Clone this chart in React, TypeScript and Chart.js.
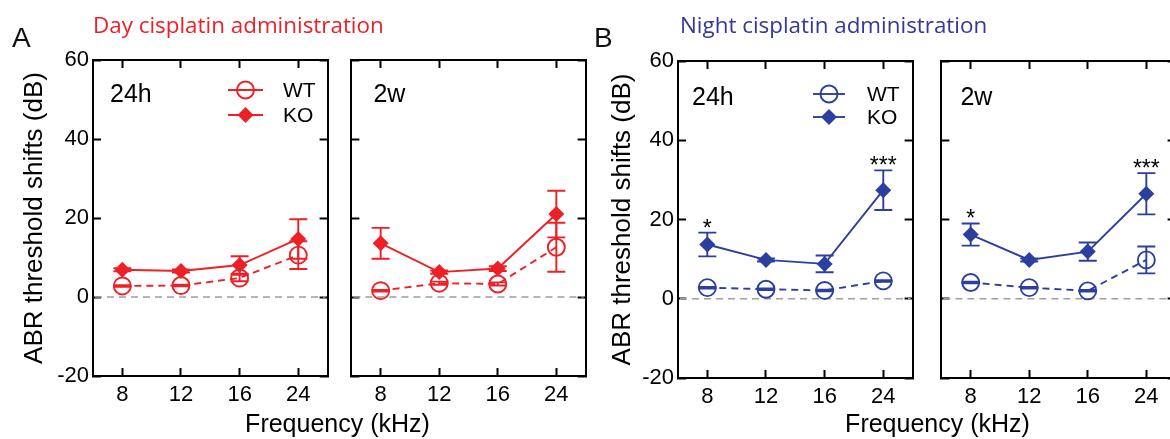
import React, { useEffect, useRef } from 'react';
import { Chart, registerables } from 'chart.js';

Chart.register(...registerables);

// ---------- data ----------
const FREQS = ['8', '12', '16', '24'];
const Y_MIN = -20;
const Y_MAX = 60;
const Y_STEP = 20;

// Day cisplatin, 24h
const dayWT24h = [2.8, 2.9, 4.8, 10.6];
const dayWT24hSem = [0.2, 0.2, 0.8, 3.5];
const dayKO24h = [6.9, 6.6, 8.1, 14.7];
const dayKO24hSem = [0.4, 0.4, 2.2, 5.0];

// Day cisplatin, 2w
const dayWT2w = [1.6, 3.5, 3.3, 12.6];
const dayWT2wSem = [0.2, 0.4, 0.4, 6.2];
const dayKO2w = [13.6, 6.3, 7.2, 21.0];
const dayKO2wSem = [3.9, 0.4, 0.6, 5.9];

// Night cisplatin, 24h
const nightWT24h = [2.8, 2.4, 2.1, 4.5];
const nightWT24hSem = [0.2, 0.2, 0.2, 0.2];
const nightKO24h = [13.7, 9.8, 8.8, 27.4];
const nightKO24hSem = [3.0, 0.4, 2.1, 5.0];
const nightSig24h = ['*', '', '', '***'];

// Night cisplatin, 2w
const nightWT2w = [4.1, 2.8, 2.0, 9.8];
const nightWT2wSem = [0.2, 0.2, 0.2, 3.4];
const nightKO2w = [16.2, 9.8, 11.9, 26.5];
const nightKO2wSem = [2.8, 0.4, 2.3, 5.2];
const nightSig2w = ['*', '', '', '***'];

// ---------- styles ----------
const SANS = '"Liberation Sans", Arial, Helvetica, sans-serif';
const RED = '#ee2027';
const BLUE = '#2d3f9e';
const H = 439;
const LW = 1.9;

type PanelCfg = {
  left: number;
  width: number;
  top: number;
  bottom: number;
  yAxisWidth: number;
  showYLabels: boolean;
  yTitlePad: number;
  color: string;
  wt: number[];
  wtErr: number[];
  ko: number[];
  koErr: number[];
  sig?: string[];
  label: string;
  labelDx: number;
  labelBaseline: number;
  legend?: { lineDx0: number; lineDx1: number; markDx: number; textDx: number; y0: number; y1: number };
};

function drawCircleMark(ctx: CanvasRenderingContext2D, x: number, y: number, color: string) {
  ctx.save();
  ctx.setLineDash([]);
  ctx.strokeStyle = color;
  ctx.lineWidth = LW;
  ctx.beginPath();
  ctx.arc(x, y, 8.5, 0, Math.PI * 2);
  ctx.stroke();
  ctx.restore();
}

function drawDiamondMark(ctx: CanvasRenderingContext2D, x: number, y: number, color: string) {
  const r = 8;
  ctx.save();
  ctx.fillStyle = color;
  ctx.beginPath();
  ctx.moveTo(x, y - r);
  ctx.lineTo(x + r, y);
  ctx.lineTo(x, y + r);
  ctx.lineTo(x - r, y);
  ctx.closePath();
  ctx.fill();
  ctx.restore();
}

function Panel({ cfg }: { cfg: PanelCfg }) {
  const ref = useRef<HTMLCanvasElement>(null);

  useEffect(() => {
    const canvas = ref.current;
    if (!canvas) return;
    const padBottom = 10;
    const padRight = 10;
    const xAxisH = H - padBottom - cfg.bottom;

    const gridOpts = {
      drawOnChartArea: false,
      drawTicks: true,
      tickLength: -8,
      tickWidth: 2,
      tickColor: '#000',
      offset: false,
    };
    const borderOpts = { display: true, color: '#000', width: 2 };

    const zeroLine = {
      id: 'zeroLine',
      beforeDatasetsDraw(chart: any) {
        const { ctx, chartArea, scales } = chart;
        const y = scales.y.getPixelForValue(0);
        ctx.save();
        ctx.strokeStyle = '#9f9f9f';
        ctx.lineWidth = 1.6;
        ctx.setLineDash([7, 5]);
        ctx.beginPath();
        ctx.moveTo(chartArea.left + 2, y);
        ctx.lineTo(chartArea.right - 2, y);
        ctx.stroke();
        ctx.restore();
      },
    };

    const errorBars = {
      id: 'errorBars',
      afterDatasetsDraw(chart: any) {
        const { ctx, scales } = chart;
        chart.data.datasets.forEach((ds: any, di: number) => {
          const meta = chart.getDatasetMeta(di);
          ctx.save();
          ctx.strokeStyle = ds.borderColor;
          ctx.lineWidth = LW;
          ctx.setLineDash([]);
          meta.data.forEach((pt: any, i: number) => {
            const v = ds.data[i];
            const e = ds.errors[i];
            const x = pt.x;
            const yT = scales.y.getPixelForValue(v + e);
            const yB = scales.y.getPixelForValue(v - e);
            ctx.beginPath();
            ctx.moveTo(x, yT);
            ctx.lineTo(x, yB);
            ctx.moveTo(x - 9, yT);
            ctx.lineTo(x + 9, yT);
            ctx.moveTo(x - 9, yB);
            ctx.lineTo(x + 9, yB);
            ctx.stroke();
          });
          ctx.restore();
        });
      },
    };

    const decorations = {
      id: 'decorations',
      afterDraw(chart: any) {
        const { ctx, chartArea, scales } = chart;
        ctx.save();
        // panel label
        ctx.fillStyle = '#000';
        ctx.font = `25px ${SANS}`;
        ctx.textAlign = 'left';
        ctx.textBaseline = 'alphabetic';
        ctx.fillText(cfg.label, chartArea.left + cfg.labelDx, cfg.labelBaseline);

        // legend
        if (cfg.legend) {
          const lg = cfg.legend;
          const rows = [
            { y: lg.y0, text: 'WT', kind: 'circle' },
            { y: lg.y1, text: 'KO', kind: 'diamond' },
          ];
          rows.forEach((r) => {
            ctx.save();
            ctx.strokeStyle = cfg.color;
            ctx.lineWidth = LW;
            ctx.beginPath();
            ctx.moveTo(chartArea.left + lg.lineDx0, r.y);
            ctx.lineTo(chartArea.left + lg.lineDx1, r.y);
            ctx.stroke();
            ctx.restore();
            if (r.kind === 'circle') drawCircleMark(ctx, chartArea.left + lg.markDx, r.y, cfg.color);
            else drawDiamondMark(ctx, chartArea.left + lg.markDx, r.y, cfg.color);
            ctx.fillStyle = '#000';
            ctx.font = `21px ${SANS}`;
            ctx.textBaseline = 'middle';
            ctx.textAlign = 'left';
            ctx.fillText(r.text, chartArea.left + lg.textDx, r.y + 1);
          });
        }

        // significance stars
        if (cfg.sig) {
          const meta = chart.getDatasetMeta(1);
          ctx.fillStyle = '#000';
          ctx.font = `23px ${SANS}`;
          ctx.textAlign = 'center';
          ctx.textBaseline = 'alphabetic';
          cfg.sig.forEach((s, i) => {
            if (!s) return;
            const x = meta.data[i].x;
            const yTop = scales.y.getPixelForValue(cfg.ko[i] + cfg.koErr[i]);
            ctx.fillText(s, x, yTop + 3);
          });
        }
        ctx.restore();
      },
    };

    const chart = new Chart(canvas, {
      type: 'line',
      data: {
        labels: FREQS,
        datasets: [
          {
            label: 'WT',
            data: cfg.wt,
            errors: cfg.wtErr,
            borderColor: cfg.color,
            backgroundColor: 'rgba(0,0,0,0)',
            borderWidth: LW,
            borderDash: [7, 5],
            pointStyle: 'circle',
            pointRadius: 8.5,
            pointBorderWidth: LW,
            pointBorderColor: cfg.color,
            pointBackgroundColor: 'rgba(0,0,0,0)',
            tension: 0,
            fill: false,
          } as any,
          {
            label: 'KO',
            data: cfg.ko,
            errors: cfg.koErr,
            borderColor: cfg.color,
            backgroundColor: cfg.color,
            borderWidth: LW,
            pointStyle: 'rectRot',
            pointRadius: 8,
            pointBorderWidth: 0,
            pointBorderColor: cfg.color,
            pointBackgroundColor: cfg.color,
            tension: 0,
            fill: false,
          } as any,
        ],
      },
      options: {
        animation: false,
        responsive: false,
        events: [],
        layout: { padding: { top: cfg.top, bottom: padBottom, left: 0, right: padRight } },
        plugins: {
          legend: { display: false },
          tooltip: { enabled: false },
          title: { display: false },
        },
        scales: {
          x: {
            type: 'category',
            position: 'bottom',
            offset: true,
            grid: gridOpts,
            border: borderOpts,
            ticks: {
              color: '#000',
              font: { family: SANS, size: 22 },
              padding: 14,
              maxRotation: 0,
              autoSkip: false,
            },
            afterFit: (s: any) => {
              s.height = xAxisH;
            },
          },
          x2: {
            type: 'category',
            position: 'top',
            offset: true,
            grid: gridOpts,
            border: borderOpts,
            ticks: { display: false },
            afterFit: (s: any) => {
              s.height = 0;
            },
          },
          y: {
            type: 'linear',
            position: 'left',
            min: Y_MIN,
            max: Y_MAX,
            grid: gridOpts,
            border: borderOpts,
            ticks: {
              display: cfg.showYLabels,
              stepSize: Y_STEP,
              color: '#000',
              font: { family: SANS, size: 22 },
              padding: 12,
            },
            title: {
              display: cfg.showYLabels,
              text: 'ABR threshold shifts (dB)',
              color: '#000',
              font: { family: SANS, size: 26, lineHeight: 1.2 },
              padding: { top: cfg.yTitlePad, bottom: 0 },
            },
            afterFit: (s: any) => {
              s.width = cfg.yAxisWidth;
            },
          },
          y2: {
            type: 'linear',
            position: 'right',
            min: Y_MIN,
            max: Y_MAX,
            grid: gridOpts,
            border: borderOpts,
            ticks: { display: false, stepSize: Y_STEP },
            afterFit: (s: any) => {
              s.width = 0;
            },
          },
        },
      } as any,
      plugins: [zeroLine, errorBars, decorations],
    });

    return () => {
      chart.destroy();
    };
  }, [cfg]);

  return (
    <canvas
      ref={ref}
      width={cfg.width}
      height={H}
      style={{ position: 'absolute', left: cfg.left, top: 0, width: cfg.width, height: H }}
    />
  );
}

const PANELS: PanelCfg[] = [
  {
    left: 0, width: 338, top: 60, bottom: 376, yAxisWidth: 93, showYLabels: true, yTitlePad: 19.5,
    color: RED, wt: dayWT24h, wtErr: dayWT24hSem, ko: dayKO24h, koErr: dayKO24hSem,
    label: '24h', labelDx: 17, labelBaseline: 102,
    legend: { lineDx0: 135, lineDx1: 170, markDx: 152.5, textDx: 190, y0: 90, y1: 115 },
  },
  {
    left: 341, width: 255, top: 60, bottom: 376, yAxisWidth: 10, showYLabels: false, yTitlePad: 0,
    color: RED, wt: dayWT2w, wtErr: dayWT2wSem, ko: dayKO2w, koErr: dayKO2wSem,
    label: '2w', labelDx: 22, labelBaseline: 102,
  },
  {
    left: 596, width: 327, top: 61, bottom: 378, yAxisWidth: 82, showYLabels: true, yTitlePad: 11.4,
    color: BLUE, wt: nightWT24h, wtErr: nightWT24hSem, ko: nightKO24h, koErr: nightKO24hSem, sig: nightSig24h,
    label: '24h', labelDx: 14, labelBaseline: 104.5,
    legend: { lineDx0: 135, lineDx1: 167, markDx: 151, textDx: 189, y0: 94, y1: 117 },
  },
  {
    left: 931, width: 255, top: 61, bottom: 378, yAxisWidth: 10, showYLabels: false, yTitlePad: 0,
    color: BLUE, wt: nightWT2w, wtErr: nightWT2wSem, ko: nightKO2w, koErr: nightKO2wSem, sig: nightSig2w,
    label: '2w', labelDx: 19, labelBaseline: 105,
  },
];

const textBase: React.CSSProperties = {
  position: 'absolute',
  whiteSpace: 'nowrap',
  lineHeight: 1,
  margin: 0,
};

export default function App() {
  return (
    <div
      style={{
        position: 'fixed',
        left: 0,
        top: 0,
        width: 1170,
        height: H,
        overflow: 'hidden',
        background: '#fff',
      }}
    >
      {PANELS.map((p, i) => (
        <Panel key={i} cfg={p} />
      ))}
      <div style={{ ...textBase, left: 12, top: 24, fontFamily: SANS, fontSize: 28, color: '#111' }}>A</div>
      <div style={{ ...textBase, left: 594, top: 24, fontFamily: SANS, fontSize: 28, color: '#111' }}>B</div>
      <div
        style={{ ...textBase, left: 93, top: 14, fontFamily: '"Open Sans", sans-serif', fontSize: 22.4, color: RED }}
      >
        Day cisplatin administration
      </div>
      <div
        style={{ ...textBase, left: 680, top: 14, fontFamily: '"Open Sans", sans-serif', fontSize: 22.4, color: '#33389a' }}
      >
        Night cisplatin administration
      </div>
      <div
        style={{ ...textBase, left: 237.5, width: 200, top: 411, textAlign: 'center', fontFamily: SANS, fontSize: 25, color: '#000' }}
      >
        Frequency (kHz)
      </div>
      <div
        style={{ ...textBase, left: 837.5, width: 200, top: 411, textAlign: 'center', fontFamily: SANS, fontSize: 25, color: '#000' }}
      >
        Frequency (kHz)
      </div>
    </div>
  );
}
